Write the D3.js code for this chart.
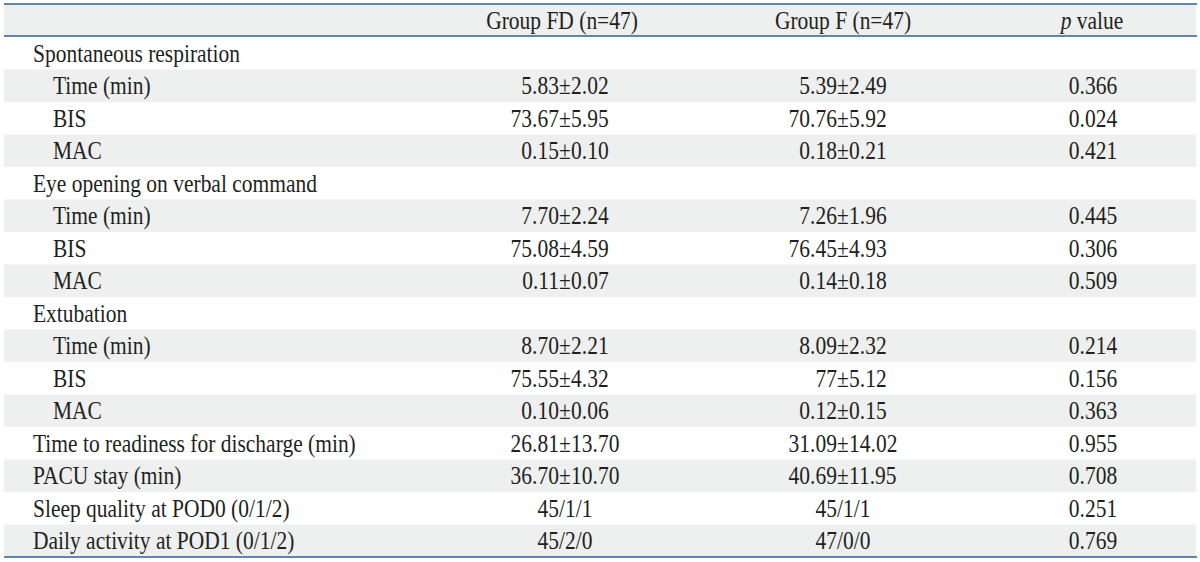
<!DOCTYPE html>
<html>
<head>
<meta charset="utf-8">
<script src="https://cdn.jsdelivr.net/npm/d3@7"></script>
<style>
  html, body { margin: 0; padding: 0; background: #ffffff; }
  svg { display: block; }
  text { font-family: "Liberation Serif", "Times New Roman", serif; fill: #231f20; }
</style>
</head>
<body>
<svg id="chart" width="1200" height="562"></svg>
<script>
// ---------- data ----------
const headers = ["", "Group FD (n=47)", "Group F (n=47)", "p value"];
const rowLabels = [
  "Spontaneous respiration", "Time (min)", "BIS", "MAC",
  "Eye opening on verbal command", "Time (min)", "BIS", "MAC",
  "Extubation", "Time (min)", "BIS", "MAC",
  "Time to readiness for discharge (min)", "PACU stay (min)",
  "Sleep quality at POD0 (0/1/2)", "Daily activity at POD1 (0/1/2)"
];
const rowIndent = [0,1,1,1, 0,1,1,1, 0,1,1,1, 0,0,0,0];
const groupFD = [
  "", "5.83±2.02", "73.67±5.95", "0.15±0.10",
  "", "7.70±2.24", "75.08±4.59", "0.11±0.07",
  "", "8.70±2.21", "75.55±4.32", "0.10±0.06",
  "26.81±13.70", "36.70±10.70", "45/1/1", "45/2/0"
];
const groupF = [
  "", "5.39±2.49", "70.76±5.92", "0.18±0.21",
  "", "7.26±1.96", "76.45±4.93", "0.14±0.18",
  "", "8.09±2.32", "77±5.12", "0.12±0.15",
  "31.09±14.02", "40.69±11.95", "45/1/1", "47/0/0"
];
const pValues = [
  "", "0.366", "0.024", "0.421",
  "", "0.445", "0.306", "0.509",
  "", "0.214", "0.156", "0.363",
  "0.955", "0.708", "0.251", "0.769"
];

// ---------- layout ----------
const W = 1200, H = 562;
const left = 4, right = 1196;
const headTop = 4, headBottom = 36, bodyBottom = 557;
const FS = 25, SX = 0.86;
const lineColor = "#2f5f9a";
const shade = "#eeefef";

const svg = d3.select("#chart");
svg.append("rect").attr("width", W).attr("height", H).attr("fill", "#fff");

const y = d3.scaleBand()
  .domain(d3.range(rowLabels.length))
  .range([headBottom + 1, bodyBottom])
  .paddingInner(0).paddingOuter(0);

// column anchors
const col = d3.scaleOrdinal()
  .domain(["label", "fd", "f", "p"])
  .range([33, 565, 843, 1093]);
const headCol = d3.scaleOrdinal()
  .domain(["fd", "f", "p"])
  .range([562, 843, 1092]);

// header band
svg.append("rect")
  .attr("x", left).attr("y", headTop)
  .attr("width", right - left).attr("height", headBottom - headTop)
  .attr("fill", shade);

// row shading
svg.append("g").selectAll("rect")
  .data(d3.range(rowLabels.length).filter(i => i % 2 === 1))
  .join("rect")
  .attr("x", left).attr("y", i => y(i))
  .attr("width", right - left).attr("height", y.bandwidth())
  .attr("fill", shade);

// rules
[headTop, headBottom, bodyBottom].forEach(yy => {
  svg.append("line")
    .attr("x1", left).attr("x2", right + 1)
    .attr("y1", yy).attr("y2", yy)
    .attr("stroke", lineColor).attr("stroke-width", 1.6);
});

function scaledText(parent, x, yy, anchor) {
  const g = parent.append("g").attr("transform", `translate(${x},${yy}) scale(${SX},1)`);
  return g.append("text").attr("x", 0).attr("y", 0)
    .attr("font-size", FS).attr("text-anchor", anchor);
}

// header texts
const headBase = (headTop + headBottom) / 2 + 8.5;
scaledText(svg, headCol("fd"), headBase, "middle").text(headers[1]);
scaledText(svg, headCol("f"), headBase, "middle").text(headers[2]);
const pt = scaledText(svg, headCol("p"), headBase, "middle");
pt.append("tspan").attr("font-style", "italic").text("p");
pt.append("tspan").text(" value");

// body
const baseOff = d => y(d) + y.bandwidth() / 2 + 8.3;
const gBody = svg.append("g");

rowLabels.forEach((lab, i) => {
  scaledText(gBody, col("label") + rowIndent[i] * 20, baseOff(i), "start").text(lab);
});

const pmHalf = FS * 0.564 / 2;
function valueCell(str, cx, i) {
  if (!str) return;
  const g = gBody.append("g").attr("transform", `translate(${cx},${baseOff(i)}) scale(${SX},1)`);
  if (str.includes("±")) {
    const [a, b] = str.split("±");
    g.append("text").attr("font-size", FS).attr("text-anchor", "end").attr("x", -pmHalf).text(a);
    g.append("text").attr("font-size", FS).attr("text-anchor", "middle").attr("x", 0).text("±");
    g.append("text").attr("font-size", FS).attr("text-anchor", "start").attr("x", pmHalf).text(b);
  } else {
    g.append("text").attr("font-size", FS).attr("text-anchor", "middle").text(str);
  }
}
groupFD.forEach((v, i) => valueCell(v, col("fd"), i));
groupF.forEach((v, i) => valueCell(v, col("f"), i));
pValues.forEach((v, i) => valueCell(v, col("p"), i));
</script>
</body>
</html>
